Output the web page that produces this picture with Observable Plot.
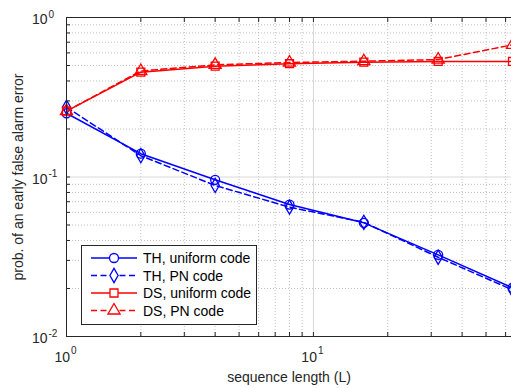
<!DOCTYPE html>
<html><head><meta charset="utf-8">
<script src="https://cdn.jsdelivr.net/npm/d3@7"></script>
<script src="https://cdn.jsdelivr.net/npm/@observablehq/plot@0.6"></script>
<style>body{margin:0;background:#fff} #chart{width:511px;height:388px}</style>
</head><body><div id="chart"></div>
<script>
const L = [1, 2, 4, 8, 16, 32, 64];
const thUniform = [0.251, 0.140, 0.096, 0.0672, 0.0516, 0.0325, 0.0202];
const thPN      = [0.274, 0.136, 0.0885, 0.0647, 0.0520, 0.0314, 0.0196];
const dsUniform = [0.259, 0.454, 0.495, 0.513, 0.525, 0.530, 0.530];
const dsPN      = [0.259, 0.462, 0.505, 0.522, 0.532, 0.545, 0.674];

const seriesNames = ["TH, uniform code", "TH, PN code", "DS, uniform code", "DS, PN code"];
const seriesValues = [thUniform, thPN, dsUniform, dsPN];
const seriesColors = ["#0000ff", "#0000ff", "#ff0000", "#ff0000"];
const seriesDash = [null, "6,3.5", null, "6,3.5"];
const seriesSymbols = ["circle", "diamond", "square", "triangle"];
const seriesR = [4.5, 4.3, 4.5, 4.5];

const xMajor = [1, 10];
const xMinor = [2, 3, 4, 5, 6, 7, 8, 9, 20, 30, 40, 50, 60];
const yMajor = [0.01, 0.1, 1];
const yMinor = [0.02, 0.03, 0.04, 0.05, 0.06, 0.07, 0.08, 0.09, 0.2, 0.3, 0.4, 0.5, 0.6, 0.7, 0.8, 0.9];
const xLabel = "sequence length (L)";
const yLabel = "prob. of an early false alarm error";

const rows = seriesNames.flatMap((s, i) => L.map((l, j) => ({series: s, L: l, p: seriesValues[i][j]})));

const ink = "#262626";
const lw = 1.5;
const expText = d => String(Math.round(Math.log10(d)));

const seriesMarks = seriesNames.flatMap((s, i) => {
  const data = rows.filter(r => r.series === s);
  return [
    Plot.line(data, {x: "L", y: "p", stroke: seriesColors[i], strokeWidth: lw, strokeDasharray: seriesDash[i] || undefined}),
    Plot.dot(data, {x: "L", y: "p", symbol: seriesSymbols[i], r: seriesR[i], stroke: seriesColors[i], fill: "none", strokeWidth: 1.3})
  ];
});

const allX = [...xMajor, ...xMinor];
const allY = [...yMajor, ...yMinor];

const chart = Plot.plot({
  width: 511, height: 388,
  marginLeft: 66, marginTop: 17, marginBottom: 52, marginRight: 0,
  style: {fontFamily: "Liberation Sans, Arial, sans-serif", fontSize: "14px", background: "#fff"},
  x: {type: "log", domain: [1, 64], range: [66, 512]},
  y: {type: "log", domain: [0.01, 1]},
  marks: [
    Plot.ruleX(xMinor, {stroke: "#bfbfbf", strokeDasharray: "1,2"}),
    Plot.ruleY(yMinor, {stroke: "#bfbfbf", strokeDasharray: "1,2"}),
    Plot.ruleX(xMajor, {stroke: "#dadada"}),
    Plot.ruleY(yMajor, {stroke: "#dadada"}),
    ...seriesMarks,
    Plot.ruleX([1], {stroke: ink}),
    Plot.ruleY([0.01, 1], {stroke: ink}),
    Plot.axisX(allX, {anchor: "bottom", tickSize: -4, tickFormat: () => "", label: null, stroke: ink}),
    Plot.axisX(allX, {anchor: "top", tickSize: -4, tickFormat: () => "", label: null, stroke: ink}),
    Plot.axisY(allY, {anchor: "left", tickSize: -4, tickFormat: () => "", label: null, stroke: ink}),
    // x tick labels
    Plot.text(xMajor, {x: d => d, text: () => "10", frameAnchor: "bottom", textAnchor: "end", lineAnchor: "middle", dx: 3.5, dy: 21, fontSize: 14, fill: ink}),
    Plot.text(xMajor, {x: d => d, text: expText, frameAnchor: "bottom", textAnchor: "start", lineAnchor: "middle", dx: 4.5, dy: 14.5, fontSize: 10, fill: ink}),
    // y tick labels
    Plot.text(yMajor, {y: d => d, text: () => "10", frameAnchor: "left", textAnchor: "end", lineAnchor: "middle", dx: -19, dy: 2.5, fontSize: 14, fill: ink}),
    Plot.text(yMajor, {y: d => d, text: expText, frameAnchor: "left", textAnchor: "start", lineAnchor: "middle", dx: -18, dy: -3, fontSize: 10, fill: ink}),
    // axis labels
    Plot.text([xLabel], {frameAnchor: "bottom", text: d => d, textAnchor: "middle", lineAnchor: "middle", dy: 41, fontSize: 14, fill: ink}),
    Plot.text([yLabel], {frameAnchor: "left", text: d => d, textAnchor: "middle", rotate: -90, lineAnchor: "middle", dx: -48, fontSize: 14, fill: ink})
  ]
});

document.getElementById("chart").appendChild(chart);

// legend inside the axes
const svg = d3.select(chart.tagName.toLowerCase() === "svg" ? chart : chart.querySelector("svg"));
const lg = svg.append("g").attr("transform", "translate(81.5,245.5)").attr("text-anchor", "start");
lg.append("rect").attr("width", 175).attr("height", 79).attr("fill", "#fff").attr("stroke", ink).attr("stroke-width", 1);
const symMap = {circle: d3.symbolCircle, diamond: d3.symbolDiamond, square: d3.symbolSquare, triangle: d3.symbolTriangle};
seriesNames.forEach((s, i) => {
  const cy = 12.5 + i * 17.5;
  const ln = lg.append("line").attr("x1", 9.5).attr("x2", 55.5).attr("y1", cy).attr("y2", cy)
    .attr("stroke", seriesColors[i]).attr("stroke-width", lw);
  if (seriesDash[i]) ln.attr("stroke-dasharray", seriesDash[i]);
  lg.append("path").attr("d", d3.symbol(symMap[seriesSymbols[i]], Math.PI * seriesR[i] * seriesR[i])())
    .attr("transform", `translate(32.5,${cy})`)
    .attr("fill", "#fff").attr("stroke", seriesColors[i]).attr("stroke-width", 1.3);
  lg.append("text").attr("x", 61.5).attr("y", cy + 5).attr("text-anchor", "start").text(s)
    .attr("font-family", "Liberation Sans, Arial, sans-serif").attr("font-size", 14).attr("fill", "#000");
});
</script>
</body></html>
